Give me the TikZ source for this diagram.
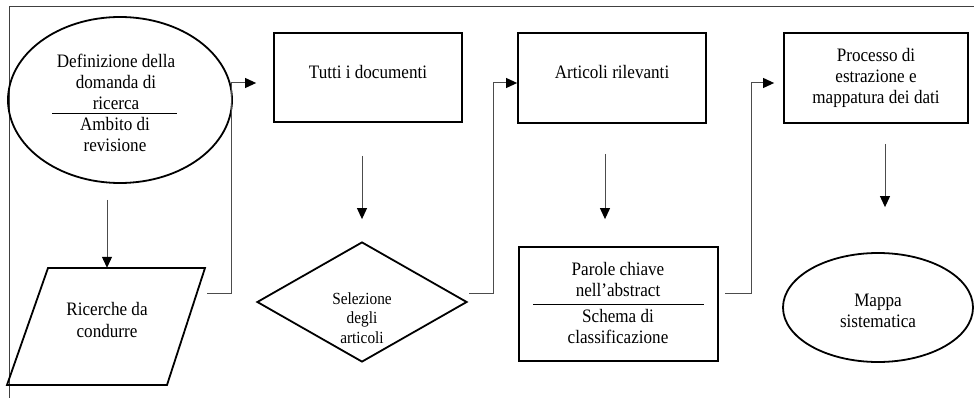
\documentclass[tikz,border=0pt]{standalone}
\usepackage{fontspec}
\setmainfont[FakeStretch=0.9]{Liberation Serif}
\usetikzlibrary{shapes.geometric,arrows.meta,calc}
\begin{document}
\begin{tikzpicture}[x=1pt,y=-1pt,
  shp/.style={draw=black, line width=1.8pt},
  boxs/.style={shp, rectangle, inner sep=0pt},
  ell/.style={shp, ellipse, inner sep=0pt},
  txt/.style={align=center, font=\fontsize{19}{21}\selectfont, inner sep=0pt},
  smalltxt/.style={align=center, font=\fontsize{17}{19.5}\selectfont, inner sep=0pt},
  conn/.style={draw=black!70, line width=1pt},
  arr/.style={conn, -{Triangle[length=11pt,width=10pt,color=black]}},
  frame/.style={draw=black!75, line width=1pt}]
\useasboundingbox (0,0) rectangle (974,398);
\fill[white] (0,0) rectangle (974,398);
% frame
\draw[frame] (9,398) -- (9,7) -- (974,7);

% ellipse 1
\node[ell, minimum width=224pt, minimum height=166pt] (e1) at (120,100) {};
\node[txt] (e1t) at (116,82) {Definizione della\\domanda di\\ricerca};
\node[txt] (e1b) at (115,135) {Ambito di\\revisione};
\draw[line width=1pt] (52,114) -- (177,114);

% parallelogram
\draw[shp, line join=miter] (48,268) -- (205,268) -- (167,385) -- (7,385) -- cycle;
\node[txt, minimum width=160pt, minimum height=117pt] (par) at (107,326.5) {};
\node[txt] (part) at (107,320) {Ricerche da\\condurre};

% Tutti
\node[boxs, minimum width=188pt, minimum height=89pt] (tutti) at (368,77.5) {};
\node[txt] (tuttit) at (368,72) {Tutti i documenti};

% diamond
\node[shp, diamond, inner sep=0pt, minimum width=210pt, minimum height=120pt] (dia) at (362,302) {};
\node[smalltxt] (diat) at (362,318) {Selezione\\degli\\articoli};

% Articoli
\node[boxs, minimum width=188pt, minimum height=90pt] (art) at (612,78) {};
\node[txt] (artt) at (612,72) {Articoli rilevanti};

% Parole
\node[boxs, minimum width=199pt, minimum height=114pt] (par2) at (618.5,304) {};
\node[txt] (par2t) at (618,280) {Parole chiave\\nell'abstract};
\node[txt] (par2b) at (618,326.5) {Schema di\\classificazione};
\draw[line width=1pt] (533,304) -- (704,304);

% Processo
\node[boxs, minimum width=184pt, minimum height=90pt] (proc) at (876,78) {};
\node[txt] (proct) at (876,78) {Processo di\\estrazione e\\mappatura dei dati};

% Mappa
\node[ell, minimum width=190pt, minimum height=109pt] (map) at (878,307.5) {};
\node[txt] (mapt) at (878,311) {Mappa\\sistematica};

% connectors
\coordinate (a1s) at (107,200);
\draw[arr] (a1s) -- (a1s |- par.north);

\coordinate (c1s) at (207,293);
\draw[arr] (c1s) -| ([xshift=-42pt,yshift=-5.5pt]tutti.west) -- ([xshift=-17pt,yshift=-5.5pt]tutti.west);

\draw[arr, shorten <=33pt, shorten >=22pt] (tutti.south -| dia.north) -- (dia.north);

\coordinate (c2s) at (469,293);
\draw[arr] (c2s) -| ([xshift=-24pt,yshift=-5pt]art.west) -- ([yshift=-5pt]art.west);

\draw[arr, shorten <=30pt, shorten >=27pt] ($(art.south)+(-7,0)$) -- ($(par2.north)+(-13.5,0)$);

\coordinate (c3s) at (725,293);
\draw[arr] (c3s) -| ([xshift=-32pt,yshift=-5pt]proc.west) -- ([xshift=-9pt,yshift=-5pt]proc.west);

\draw[arr, shorten <=20pt, shorten >=45pt] ($(proc.south)+(9,0)$) -- ($(map.north)+(7,0)$);
\end{tikzpicture}
\end{document}
